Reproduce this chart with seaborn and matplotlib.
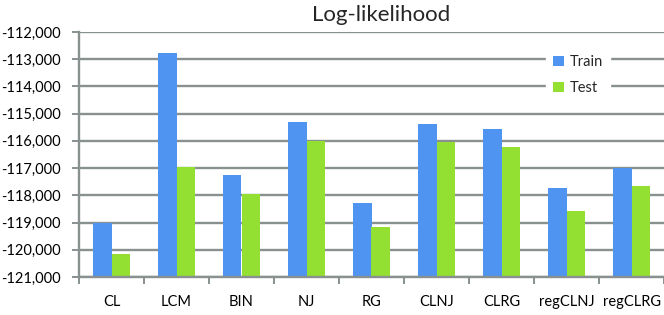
import pandas as pd
import matplotlib
matplotlib.use("Agg")
from matplotlib import pyplot as plt
from matplotlib.ticker import FuncFormatter, FixedLocator
import seaborn as sns

# values
methods = ['CL', 'LCM', 'BIN', 'NJ', 'RG', 'CLNJ', 'CLRG', 'regCLNJ', 'regCLRG']
train = [-119030, -112780, -117250, -115300, -118270, -115370, -115560, -117745, -116980]
test = [-120150, -116950, -117960, -116000, -119170, -116030, -116210, -118590, -117670]
y_ticks = list(range(-121000, -111000, 1000))

base = -121000  # bars grow up from the axis floor, like the excel chart

df = pd.DataFrame({
    'method': methods * 2,
    'set': ['Train'] * len(methods) + ['Test'] * len(methods),
    'value': train + test,
})
df['height'] = df['value'] - base

sns.set_style('white')
plt.rcParams['font.family'] = ['Lato', 'DejaVu Sans']

fig = plt.figure(figsize=(6.64, 3.15), dpi=100)
ax = fig.add_axes([79 / 664, 1 - 277 / 315, 1 - 79 / 664, (277 - 32) / 315])

grid_col = '#889090'
sns.barplot(data=df, x='method', y='height', hue='set', order=methods,
            hue_order=['Train', 'Test'], palette={'Train': '#4f94f0', 'Test': '#93e032'},
            width=0.58, ax=ax, legend=True, linewidth=0, saturation=1)
# shift the bars so they start at the floor of the axis
for p in ax.patches:
    p.set_y(p.get_y() + base)

ax.set_ylim(y_ticks[0], y_ticks[-1])
ax.set_xlim(-0.5, len(methods) - 0.5)
ax.yaxis.set_major_locator(FixedLocator(y_ticks))
ax.yaxis.set_major_formatter(FuncFormatter(lambda v, _: f'{int(v):,}'))
ax.set_axisbelow(True)
ax.grid(axis='y', color=grid_col, linewidth=1.7)
ax.set_xlabel('')
ax.set_ylabel('')

for s in ['top', 'right']:
    ax.spines[s].set_visible(False)
ax.spines['left'].set_color(grid_col)
ax.spines['left'].set_linewidth(1.7)
ax.spines['bottom'].set_color(grid_col)
ax.spines['bottom'].set_linewidth(1.7)

ax.tick_params(axis='y', direction='out', length=5, width=1.4, color=grid_col,
               pad=8, labelsize=10.5, labelcolor='black', left=True)
ax.tick_params(axis='x', which='major', length=0, pad=13, labelsize=10.5, labelcolor='black')
ax.set_xticks([i + 0.5 for i in range(-1, len(methods))], minor=True)
ax.tick_params(axis='x', which='minor', direction='out', length=5, width=1.4,
               color=grid_col, bottom=True)

fig.text(381 / 664, 1 - 15 / 315, 'Log-likelihood', ha='center', va='center', fontsize=16)

leg = ax.legend(loc='center', bbox_to_anchor=(578 / 664, 1 - 75 / 315),
                bbox_transform=fig.transFigure, frameon=True, fontsize=10.5,
                handlelength=0.7, handleheight=0.7, handletextpad=0.4,
                labelspacing=0.85, borderpad=0.5, fancybox=False)
leg.get_frame().set_edgecolor('white')
leg.get_frame().set_facecolor('white')
leg.get_frame().set_alpha(1)

fig.savefig('out.png', dpi=100)
